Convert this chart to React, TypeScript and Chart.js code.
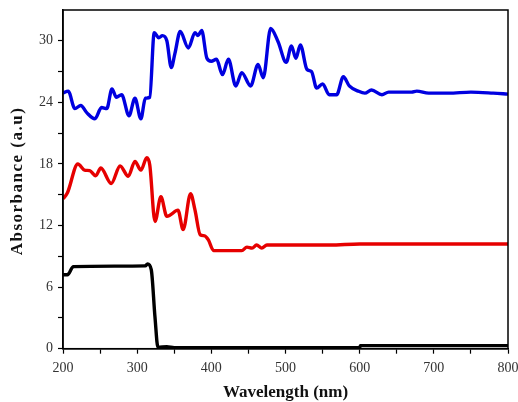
import React, { useEffect, useRef } from "react";
import { Chart, registerables } from "chart.js";

Chart.register(...registerables);

const blueX = [200, 207, 216, 224, 232, 243, 252, 259, 266, 272, 279, 289, 297, 305, 311, 317, 323, 329, 334, 340, 346, 351, 358, 369, 378, 382, 387, 394, 400, 407, 415, 423, 433, 441, 453, 463, 470, 480, 490, 501, 508, 514, 520, 529, 535, 542, 550, 559, 569, 578, 586, 598, 607, 616, 630, 639, 670, 677, 693, 720, 750, 780, 800];
const blueY = [24.9, 25.1, 23.4, 23.7, 23.0, 22.4, 23.5, 23.4, 25.3, 24.5, 24.75, 22.7, 24.4, 22.4, 24.4, 24.5, 30.8, 30.3, 30.5, 30.0, 27.4, 28.8, 30.9, 29.3, 30.8, 30.5, 31.0, 28.3, 28.0, 28.2, 26.7, 28.2, 25.6, 26.9, 25.6, 27.7, 26.4, 31.2, 29.9, 27.9, 29.5, 28.3, 29.6, 27.2, 27.0, 25.4, 25.8, 24.75, 24.75, 26.5, 25.6, 25.1, 24.9, 25.2, 24.75, 25.0, 25.0, 25.1, 24.9, 24.9, 25.0, 24.9, 24.8];

const redX = [200, 206, 220, 229, 236, 244, 251, 265, 277, 288, 297, 305, 313, 317, 324, 332, 340, 344, 355, 362, 372, 378, 385, 391, 396, 403, 441, 448, 455, 461, 468, 475, 560, 600, 800];
const redY = [14.6, 15.2, 18.0, 17.4, 17.35, 16.85, 17.6, 16.1, 17.8, 16.8, 18.25, 17.4, 18.6, 17.9, 12.4, 14.8, 12.9, 13.0, 13.5, 11.6, 15.1, 13.5, 11.1, 11.0, 10.6, 9.56, 9.56, 9.9, 9.8, 10.1, 9.8, 10.1, 10.1, 10.2, 10.2];

const blackX = [200, 206, 214, 311, 314, 319, 324, 328, 340, 350, 600, 601, 800];
const blackY = [7.2, 7.2, 8.0, 8.07, 8.26, 7.7, 3.1, 0.14, 0.2, 0.1, 0.1, 0.3, 0.3];

const xMajor = [200, 300, 400, 500, 600, 700, 800];
const yMajor = [0, 6, 12, 18, 24, 30];
const xTitle = "Wavelength (nm)";
const yTitle = "Absorbance (a.u)";

const serif = "'Liberation Serif', 'Times New Roman', serif";

const toPts = (xs: number[], ys: number[]) => xs.map((x, i) => ({ x, y: ys[i] }));

const framePlugin = {
  id: "frame",
  afterDraw(chart: any) {
    const { ctx, chartArea } = chart;
    ctx.save();
    ctx.strokeStyle = "#000";
    ctx.lineWidth = 1.5;
    ctx.strokeRect(chartArea.left, chartArea.top, chartArea.right - chartArea.left, chartArea.bottom - chartArea.top);
    // axis titles
    ctx.fillStyle = "#111";
    ctx.textAlign = "center";
    ctx.textBaseline = "middle";
    ctx.font = `bold 17px ${serif}`;
    ctx.fillText(xTitle, (chartArea.left + chartArea.right) / 2, 393);
    ctx.translate(18, 181);
    ctx.rotate(-Math.PI / 2);
    ctx.font = `bold 17px ${serif}`;
    (ctx as any).letterSpacing = "1.5px";
    ctx.fillText(yTitle, 0, 0);
    ctx.restore();
  },
};

export default function App() {
  const ref = useRef<HTMLCanvasElement>(null);
  useEffect(() => {
    if (!ref.current) return;
    const chart = new Chart(ref.current, {
      type: "line",
      data: {
        datasets: [
          { data: toPts(blueX, blueY), borderColor: "#0000e0", borderWidth: 3.4, pointRadius: 0, cubicInterpolationMode: "monotone" },
          { data: toPts(redX, redY), borderColor: "#e60000", borderWidth: 3.4, pointRadius: 0, cubicInterpolationMode: "monotone" },
          { data: toPts(blackX, blackY), borderColor: "#000000", borderWidth: 3.4, pointRadius: 0, cubicInterpolationMode: "monotone" },
        ],
      },
      options: {
        animation: false,
        responsive: false,
        maintainAspectRatio: false,
        layout: { padding: { top: 10, right: 10, left: 0, bottom: 0 } },
        plugins: { legend: { display: false }, tooltip: { enabled: false } },
        scales: {
          x: {
            type: "linear",
            min: 200,
            max: 800,
            afterFit: (s: any) => { s.height = 53.3; s.paddingRight = 0; s.paddingLeft = 0; },
            ticks: {
              stepSize: 50,
              autoSkip: false,
              maxRotation: 0,
              padding: 6,
              color: "#333",
              font: { family: serif, size: 14 },
              callback: (v: any) => (xMajor.includes(Number(v)) ? String(v) : ""),
            },
            grid: { drawOnChartArea: false, drawTicks: true, tickLength: 5, color: "#000", tickWidth: 1.2 },
            border: { color: "#000", width: 1.5 },
            title: { display: false },
          },
          y: {
            min: 0,
            max: 33,
            afterFit: (s: any) => { s.width = 63; s.paddingTop = 0; s.paddingBottom = 0; },
            ticks: {
              stepSize: 3,
              autoSkip: false,
              padding: 5,
              color: "#333",
              font: { family: serif, size: 14 },
              callback: (v: any) => (yMajor.includes(Number(v)) ? String(v) : ""),
            },
            grid: {
              drawOnChartArea: false,
              drawTicks: true,
              tickLength: 5,
              tickWidth: 1.2,
              color: (c: any) => (c.tick && c.tick.value === 33 ? "rgba(0,0,0,0)" : "#000"),
            },
            border: { color: "#000", width: 1.5 },
            title: { display: false },
          },
        },
      },
      plugins: [framePlugin],
    } as any);
    return () => chart.destroy();
  }, []);
  return (
    <div style={{ position: "fixed", left: 0, top: 0, width: 518, height: 402, background: "#fff" }}>
      <canvas ref={ref} width={518} height={402} style={{ width: 518, height: 402 }} />
    </div>
  );
}
